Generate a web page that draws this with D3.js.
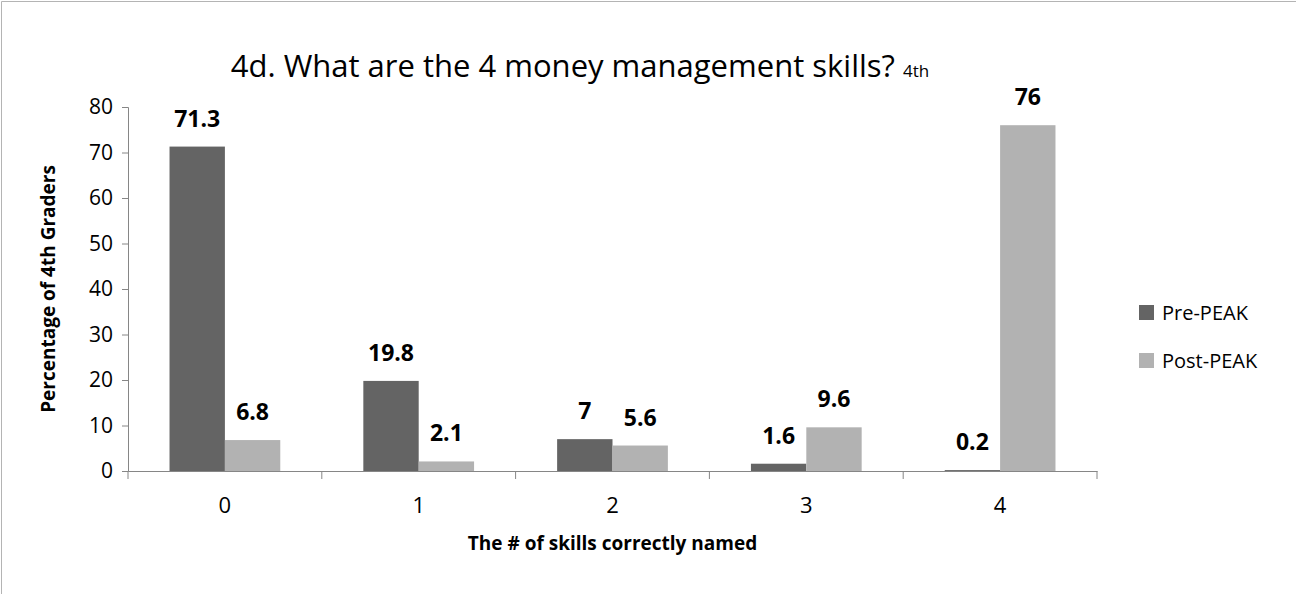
<!DOCTYPE html>
<html>
<head>
<meta charset="utf-8">
<script src="https://cdn.jsdelivr.net/npm/d3@7"></script>
<style>
  body { margin: 0; background: #fff; }
  svg { display: block; font-family: "Open Sans", "Noto Sans", sans-serif; }
</style>
</head>
<body>
<svg id="chart"></svg>
<script>
var categories = ["0", "1", "2", "3", "4"];
var seriesNames = ["Pre-PEAK", "Post-PEAK"];
var prePeak = [71.3, 19.8, 7, 1.6, 0.2];
var postPeak = [6.8, 2.1, 5.6, 9.6, 76];
var yTicks = [0, 10, 20, 30, 40, 50, 60, 70, 80];
var colors = ["#646464", "#b2b2b2"];

var width = 1297, height = 594;
var margin = {left: 128, right: 200, top: 107, bottom: 123};

var svg = d3.select("#chart").attr("width", width).attr("height", height);

// chart area border
svg.append("path").attr("d", "M1.5,594V1.5H1296").attr("fill", "none").attr("stroke", "#b4b4b4");

var x = d3.scaleBand().domain(categories).range([margin.left, width - margin.right]);
var barW = x.bandwidth() / 3.5;
var y = d3.scaleLinear().domain([0, 80]).range([height - margin.bottom, margin.top]);

var rows = categories.map(function(c, i){
	return {cat: c, values: [prePeak[i], postPeak[i]]};
});

// bars
var groups = svg.selectAll("g.cat").data(rows).enter().append("g").attr("class", "cat");
groups.each(function(d){
	var g = d3.select(this);
	d.values.forEach(function(v, s){
		var bx = x(d.cat) + x.bandwidth() / 2 - barW + s * barW;
		g.append("rect").attr("x", bx).attr("width", barW)
			.attr("y", y(v)).attr("height", y(0) - y(v)).attr("fill", colors[s]);
		g.append("text").attr("x", bx + barW / 2).attr("y", y(v) - 20)
			.attr("text-anchor", "middle").attr("font-weight", "bold").attr("font-size", 23)
			.text(v);
	});
});

// y axis
var yAxis = svg.append("g").attr("transform", "translate(" + margin.left + ",0)")
	.call(d3.axisLeft(y).tickValues(yTicks).tickSize(6).tickPadding(9));
yAxis.select(".domain").attr("stroke", "#868686");
yAxis.selectAll(".tick line").attr("stroke", "#868686");
yAxis.selectAll(".tick text").attr("font-size", 21).attr("fill", "#000").attr("font-family", "Open Sans");

// x axis
var xAxis = svg.append("g").attr("transform", "translate(0," + y(0) + ")")
	.call(d3.axisBottom(x).tickSize(0).tickPadding(26));
xAxis.select(".domain").attr("stroke", "#868686");
xAxis.selectAll(".tick text").attr("font-size", 22).attr("fill", "#000").attr("font-family", "Open Sans");
var bounds = categories.map(function(c){ return x(c); }).concat([x(categories[categories.length - 1]) + x.bandwidth()]);
xAxis.selectAll("line.sep").data(bounds).enter().append("line").attr("class", "sep")
	.attr("x1", function(d){ return d; }).attr("x2", function(d){ return d; })
	.attr("y1", 0).attr("y2", 8).attr("stroke", "#868686");

// titles
var title = svg.append("text").attr("x", 580).attr("y", 77).attr("text-anchor", "middle");
title.append("tspan").attr("font-size", 31).text("4d. What are the 4 money management skills? ");
title.append("tspan").attr("font-size", 17).text("4th");

svg.append("text").attr("x", (margin.left + width - margin.right) / 2).attr("y", 550)
	.attr("text-anchor", "middle").attr("font-weight", "bold").attr("font-size", 19)
	.text("The # of skills correctly named");

svg.append("text").attr("transform", "translate(55," + (y(40)) + ") rotate(-90)")
	.attr("text-anchor", "middle").attr("font-weight", "bold").attr("font-size", 19)
	.text("Percentage of 4th Graders");

// legend
var legend = svg.selectAll("g.leg").data(seriesNames).enter().append("g").attr("class", "leg")
	.attr("transform", function(d, i){ return "translate(1139," + (305 + i * 48) + ")"; });
legend.append("rect").attr("width", 15).attr("height", 15).attr("fill", function(d, i){ return colors[i]; });
legend.append("text").attr("x", 23).attr("y", 15).attr("font-size", 20).text(function(d){ return d; });
</script>
</body>
</html>
